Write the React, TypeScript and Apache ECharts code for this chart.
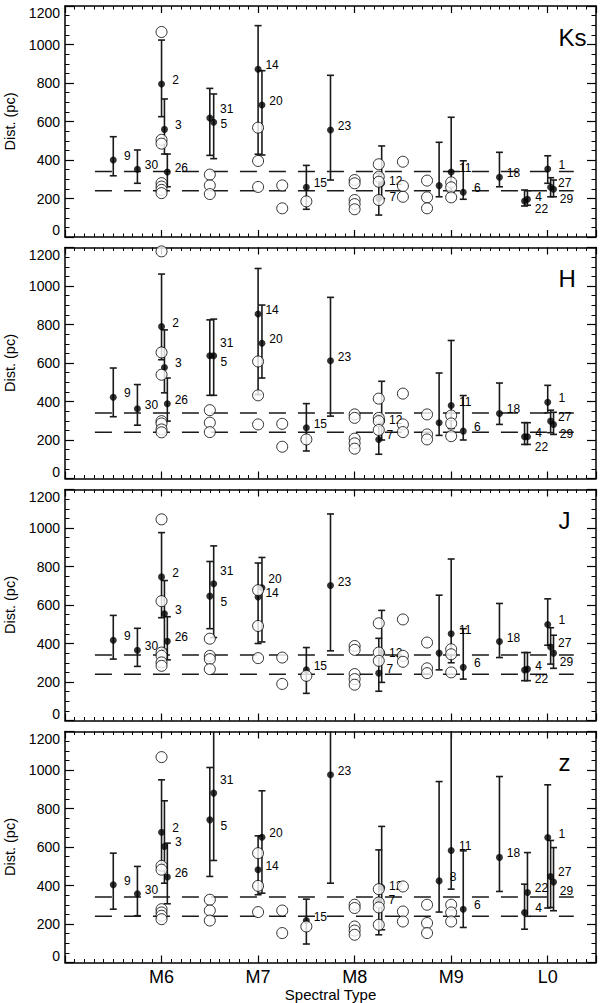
import React, { useEffect, useRef } from 'react';
import * as echarts from 'echarts';

// ---------------- data ----------------
const BANDS = ['Ks', 'H', 'J', 'z'];

const SPT_TICKS = [6, 7, 8, 9, 10];
const SPT_NAMES = ['M6', 'M7', 'M8', 'M9', 'L0'];

const STARS = ['9', '30', '2', '3', '26', '31', '5', '14', '20', '15', '23', '12', '7', '8', '11', '6', '18', '4', '22', '1', '27', '29'];
const STAR_SPT = [5.5, 5.75, 6.0, 6.03, 6.06, 6.54, 6.5, 7.0, 7.04, 7.5, 7.75, 8.28, 8.25, 8.875, 9.0, 9.125, 9.5, 9.76, 9.79, 10.0, 10.03, 10.06];

const DIST_KS = [400, 352, 795, 559, 338, 596, 618, 871, 686, 258, 556, 280, 200, 267, 338, 232, 310, 187, 196, 353, 258, 248];
const LO_KS = [318, 279, 625, 431, 261, 407, 424, 430, 426, 144, 296, 200, 114, 209, 230, 196, 261, 161, 165, 279, 209, 209];
const HI_KS = [521, 452, 1023, 717, 431, 743, 772, 1098, 864, 372, 840, 473, 330, 492, 622, 396, 440, 244, 240, 422, 308, 296];

const DIST_H = [422, 362, 789, 577, 388, 638, 638, 855, 703, 264, 612, 300, 203, 290, 379, 246, 338, 217, 217, 396, 298, 281];
const LO_H = [321, 277, 617, 445, 298, 432, 432, 436, 522, 143, 324, 200, 126, 224, 260, 200, 281, 177, 177, 341, 238, 229];
const HI_H = [574, 488, 1062, 772, 522, 828, 824, 1091, 901, 389, 941, 505, 330, 548, 717, 431, 496, 290, 290, 484, 355, 344];

const DIST_J = [417, 365, 746, 555, 412, 710, 646, 642, 690, 264, 701, 350, 246, 350, 451, 276, 410, 262, 267, 499, 382, 350];
const LO_J = [319, 281, 534, 370, 315, 431, 477, 400, 408, 141, 362, 198, 152, 263, 300, 215, 327, 207, 207, 391, 293, 271];
const HI_J = [546, 479, 976, 727, 539, 907, 826, 818, 847, 379, 1073, 572, 427, 651, 839, 477, 608, 353, 353, 632, 482, 443];

const DIST_Z = [404, 357, 677, 603, 444, 880, 741, 482, 651, 218, 975, 390, 320, 424, 582, 277, 546, 260, 364, 649, 447, 418];
const LO_Z = [277, 243, 480, 412, 305, 530, 447, 352, 360, 96, 412, 170, 144, 262, 381, 182, 369, 173, 240, 283, 286, 269];
const HI_Z = [568, 499, 949, 840, 620, 1300, 1013, 658, 892, 329, 1300, 707, 585, 940, 1300, 580, 966, 407, 571, 923, 634, 597];

// open circles: [spectral type, distance]
const OPEN_KS = [
  [6.0, 1065], [6.0, 505], [6.0, 485], [6.0, 280], [6.0, 262], [6.0, 245], [6.0, 228],
  [6.5, 324], [6.5, 268], [6.5, 223],
  [7.0, 568], [7.0, 395], [7.0, 260],
  [7.25, 268], [7.25, 149],
  [7.5, 185],
  [8.0, 296], [8.0, 279], [8.0, 192], [8.0, 171], [8.0, 144],
  [8.25, 378], [8.25, 313], [8.25, 287], [8.25, 192],
  [8.5, 391], [8.5, 265], [8.5, 209],
  [8.75, 293], [8.75, 206], [8.75, 149],
  [9.0, 284], [9.0, 258], [9.0, 206],
];
const OPEN_H = [
  [6.0, 1180], [6.0, 655], [6.0, 539], [6.0, 298], [6.0, 286], [6.0, 255], [6.0, 240],
  [6.5, 355], [6.5, 290], [6.5, 241],
  [7.0, 608], [7.0, 432], [7.0, 281],
  [7.25, 284], [7.25, 165],
  [7.5, 203],
  [8.0, 333], [8.0, 315], [8.0, 207], [8.0, 183], [8.0, 155],
  [8.25, 415], [8.25, 315], [8.25, 298], [8.25, 252],
  [8.5, 441], [8.5, 281], [8.5, 241],
  [8.75, 333], [8.75, 229], [8.75, 203],
  [9.0, 327], [9.0, 286], [9.0, 220],
];
const OPEN_J = [
  [6.0, 1045], [6.0, 620], [6.0, 353], [6.0, 336], [6.0, 302], [6.0, 284],
  [6.5, 425], [6.5, 336], [6.5, 319], [6.5, 267],
  [7.0, 677], [7.0, 491], [7.0, 324],
  [7.25, 327], [7.25, 190],
  [7.5, 232],
  [8.0, 387], [8.0, 367], [8.0, 241], [8.0, 215], [8.0, 186],
  [8.25, 505], [8.25, 353], [8.25, 310],
  [8.5, 525], [8.5, 336], [8.5, 305],
  [8.75, 405], [8.75, 271], [8.75, 246],
  [9.0, 370], [9.0, 344], [9.0, 250],
];
const OPEN_Z = [
  [6.0, 1067], [6.0, 502], [6.0, 482], [6.0, 277], [6.0, 260], [6.0, 243], [6.0, 225],
  [6.5, 326], [6.5, 270], [6.5, 218],
  [7.0, 568], [7.0, 398], [7.0, 262],
  [7.25, 270], [7.25, 153],
  [7.5, 187],
  [8.0, 300], [8.0, 283], [8.0, 187], [8.0, 166], [8.0, 144],
  [8.25, 381], [8.25, 312], [8.25, 286], [8.25, 196],
  [8.5, 395], [8.5, 265], [8.5, 213],
  [8.75, 300], [8.75, 205], [8.75, 153],
  [9.0, 300], [9.0, 260], [9.0, 213],
];

const REF_DIST = [340, 240];
const REF_SPT_RANGE = [5.31, 10.27];

const HIDDEN_LABELS: Record<string, string[]> = { Ks: ['8'], H: ['8'], J: ['8'], z: [] };

// ---------------- styles ----------------
const FONT = '"Liberation Sans", Arial, Helvetica, sans-serif';
const PANEL_TOPS = [6, 247.5, 489.5, 731.5];
const PANEL_H = 231;
const GRID_LEFT = 65;
const GRID_W = 531;
const BAR_COLOR = '#1a1a1a';
const BAR_WIDTH = 1.6;
const CAP = 3.5;
const DOT_SIZE = 7;
const LABEL_OFFSET_DEFAULT = [14, -4];
const LABEL_OFFSETS: Record<string, Record<string, number[]>> = {
  Ks: { '31': [13, -13], '5': [14, 6], '22': [14, 10], '29': [13, 10], '7': [14, -2], '12': [14, -2] },
  H: { '31': [13, -13], '5': [14, 6], '22': [14, 10], '29': [13, 10], '7': [11, -4], '12': [14, -1] },
  J: { '31': [13, -13], '5': [14, 6], '22': [14, 10], '29': [13, 9], '7': [11, -4], '12': [14, 0], '20': [13, -9] },
  z: { '31': [13, -13], '5': [14, 6], '29': [13, 9], '12': [14, -1], '7': [13, -1] },
};

const BAND_DATA: Record<string, { dist: number[]; lo: number[]; hi: number[]; open: number[][] }> = {
  Ks: { dist: DIST_KS, lo: LO_KS, hi: HI_KS, open: OPEN_KS },
  H: { dist: DIST_H, lo: LO_H, hi: HI_H, open: OPEN_H },
  J: { dist: DIST_J, lo: LO_J, hi: HI_J, open: OPEN_J },
  z: { dist: DIST_Z, lo: LO_Z, hi: HI_Z, open: OPEN_Z },
};

const renderErrorBar = (params: any, api: any) => {
  const x = api.value(0);
  const lo = api.value(1);
  const hi = api.value(2);
  const pTop = api.coord([x, hi]);
  const pBot = api.coord([x, lo]);
  const cs = params.coordSys;
  const topClipped = pTop[1] < cs.y;
  const yTop = topClipped ? cs.y : pTop[1];
  const style = { stroke: BAR_COLOR, lineWidth: BAR_WIDTH, fill: 'none' };
  const children: any[] = [
    { type: 'line', shape: { x1: pTop[0], y1: yTop, x2: pBot[0], y2: pBot[1] }, style },
    { type: 'line', shape: { x1: pBot[0] - CAP, y1: pBot[1], x2: pBot[0] + CAP, y2: pBot[1] }, style },
  ];
  if (!topClipped) {
    children.push({ type: 'line', shape: { x1: pTop[0] - CAP, y1: yTop, x2: pTop[0] + CAP, y2: yTop }, style });
  }
  return { type: 'group', children };
};

const makeLabelRenderer = (band: string) => (params: any, api: any) => {
  const k = api.value(2);
  const name = STARS[k];
  if (HIDDEN_LABELS[band].includes(name)) return null;
  const p = api.coord([api.value(0), api.value(1)]);
  const off = LABEL_OFFSETS[band][name] || LABEL_OFFSET_DEFAULT;
  return {
    type: 'text',
    x: p[0] + off[0],
    y: p[1] + off[1],
    style: {
      text: name, fill: '#000', fontSize: 12, fontFamily: FONT,
      align: 'center', verticalAlign: 'middle',
    },
  };
};

function sptFormatter(v: number) {
  const k = SPT_TICKS.indexOf(Math.round(v * 1000) / 1000);
  return k >= 0 ? SPT_NAMES[k] : '';
}

function buildOption() {
  const grid: any[] = [];
  const xAxis: any[] = [];
  const yAxis: any[] = [];
  const series: any[] = [];
  const graphic: any[] = [];
  const n = BANDS.length;

  const gridDef = (top: number) => ({
    left: GRID_LEFT, top, width: GRID_W, height: PANEL_H, containLabel: false, outerBoundsMode: 'none',
  });

  BANDS.forEach((band, i) => {
    const top = PANEL_TOPS[i];
    const isLast = i === n - 1;
    grid.push(gridDef(top));
    ['bottom', 'top'].forEach((pos) => {
      const showLabels = isLast && pos === 'bottom';
      xAxis.push({
        type: 'value', gridIndex: i, position: pos, min: 5, max: 10.5, interval: 1,
        axisLine: { show: true, onZero: false, lineStyle: { color: '#000', width: 1.5 } },
        axisTick: { show: true, inside: true, length: 7, lineStyle: { color: '#000', width: 1.2 } },
        axisLabel: { show: showLabels, formatter: sptFormatter, fontSize: 18, color: '#000', fontFamily: FONT, margin: 5 },
        splitLine: { show: false },
        name: showLabels ? 'Spectral Type' : '',
        nameLocation: 'middle', nameGap: 24,
        nameTextStyle: { fontSize: 15, color: '#000', fontFamily: FONT },
      });
    });
    ['left', 'right'].forEach((pos) => {
      const isLeft = pos === 'left';
      yAxis.push({
        type: 'value', gridIndex: i, position: pos, min: 0, max: 1200, interval: 200,
        axisLine: { show: true, onZero: false, lineStyle: { color: '#000', width: 1.5 } },
        axisTick: { show: true, inside: true, length: 9, lineStyle: { color: '#000', width: 1.2 } },
        minorTick: { show: true, splitNumber: 4, length: 4.5, lineStyle: { color: '#000', width: 1 } },
        axisLabel: {
          show: isLeft, fontSize: 14, color: '#000', fontFamily: FONT, margin: 5,
          formatter: (v: number) => String(v),
          verticalAlignMinLabel: 'bottom', verticalAlignMaxLabel: 'top',
        },
        splitLine: { show: false },
        minorSplitLine: { show: false },
        name: isLeft ? 'Dist. (pc)' : '',
        nameLocation: 'middle', nameGap: 47, nameRotate: 90,
        nameTextStyle: { fontSize: 14.5, color: '#000', fontFamily: FONT },
      });
    });

    const d = BAND_DATA[band];
    const xi = 2 * i;
    const yi = 2 * i;

    series.push({
      type: 'custom', xAxisIndex: xi, yAxisIndex: yi, z: 2, silent: true,
      renderItem: renderErrorBar,
      encode: { x: 0, y: [1, 2] },
      data: STARS.map((s, k) => [STAR_SPT[k], d.lo[k], d.hi[k]]),
    });

    REF_DIST.forEach((rv) => {
      series.push({
        type: 'line', xAxisIndex: xi, yAxisIndex: yi, z: 3, silent: true, symbol: 'none',
        lineStyle: { color: BAR_COLOR, width: 1.5, type: [17, 12] },
        data: REF_SPT_RANGE.map((x) => [x, rv]),
      });
    });

    series.push({
      type: 'scatter', xAxisIndex: xi, yAxisIndex: yi, z: 4, silent: true,
      symbol: 'circle', symbolSize: DOT_SIZE,
      itemStyle: { color: '#000' },
      data: STARS.map((s, k) => [STAR_SPT[k], d.dist[k]]),
    });

    series.push({
      type: 'custom', xAxisIndex: xi, yAxisIndex: yi, z: 4, silent: true,
      renderItem: makeLabelRenderer(band),
      encode: { x: 0, y: 1 },
      data: STARS.map((s, k) => [STAR_SPT[k], d.dist[k], k]),
    });

    series.push({
      type: 'scatter', xAxisIndex: xi, yAxisIndex: yi, z: 5, silent: true,
      symbol: 'circle', symbolSize: 11,
      itemStyle: { color: '#fff', borderColor: '#000', borderWidth: 1 },
      data: d.open,
    });

    graphic.push({
      type: 'text', x: 558.5, y: top + 31, z: 10, silent: true,
      style: { text: band, fontSize: 24, fontFamily: FONT, fill: '#000', align: 'left', verticalAlign: 'middle' },
    });
  });

  // overlay grids carrying the minor x ticks (0.1 spectral subtype)
  BANDS.forEach((band, i) => {
    const g = n + i;
    grid.push(gridDef(PANEL_TOPS[i]));
    ['bottom', 'top'].forEach((pos) => {
      xAxis.push({
        type: 'value', gridIndex: g, position: pos, min: 5, max: 10.5, interval: 0.1,
        axisLine: { show: false, onZero: false },
        axisTick: { show: true, inside: true, length: 3.5, lineStyle: { color: '#000', width: 1 } },
        axisLabel: { show: false },
        splitLine: { show: false },
      });
    });
    yAxis.push({ type: 'value', gridIndex: g, min: 0, max: 1200, show: false });
  });

  return {
    animation: false,
    backgroundColor: '#fff',
    textStyle: { fontFamily: FONT },
    grid, xAxis, yAxis, series, graphic,
  };
}

export default function App() {
  const ref = useRef<HTMLDivElement>(null);
  useEffect(() => {
    if (!ref.current) return;
    const chart = echarts.init(ref.current, undefined, { renderer: 'svg' });
    chart.setOption(buildOption() as any);
    return () => chart.dispose();
  }, []);
  return (
    <div
      ref={ref}
      style={{ position: 'absolute', left: 0, top: 0, width: 600, height: 1003, background: '#fff' }}
    />
  );
}
